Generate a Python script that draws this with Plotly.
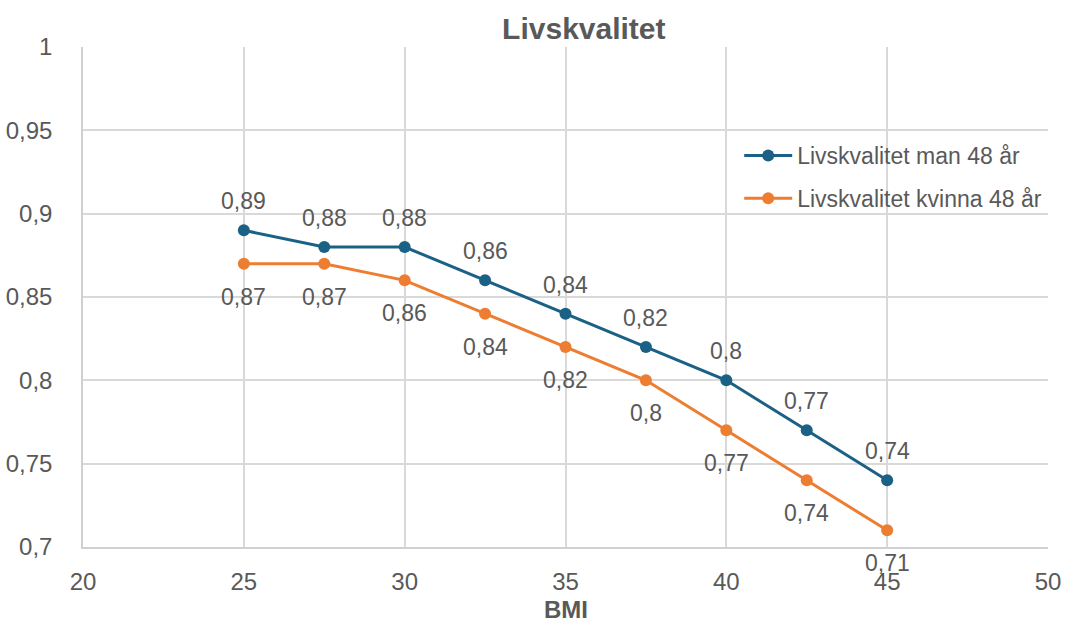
import plotly.graph_objects as go

bmi = [25, 27.5, 30, 32.5, 35, 37.5, 40, 42.5, 45]
man = [0.89, 0.88, 0.88, 0.86, 0.84, 0.82, 0.80, 0.77, 0.74]
kvinna = [0.87, 0.87, 0.86, 0.84, 0.82, 0.80, 0.77, 0.74, 0.71]
names = ["Livskvalitet man 48 år", "Livskvalitet kvinna 48 år"]

def fmt(v):
    return f"{v:g}".replace(".", ",")

FONT = "Liberation Sans, Arial, sans-serif"
GRAY = "#595959"
BLUE = "#1B6185"
ORANGE = "#ED7D31"

fig = go.Figure()
fig.add_trace(go.Scatter(
    x=bmi, y=man, name=names[0], mode="lines+markers",
    line=dict(color=BLUE, width=3), marker=dict(size=12, color=BLUE),
    legendgroup="a", cliponaxis=False))
fig.add_trace(go.Scatter(
    x=bmi, y=kvinna, name=names[1], mode="lines+markers",
    line=dict(color=ORANGE, width=3), marker=dict(size=12, color=ORANGE),
    legendgroup="b", cliponaxis=False))

annotations = []
for xv, yv in zip(bmi, man):
    annotations.append(dict(x=xv, y=yv, xref="x", yref="y", text=fmt(yv), showarrow=False,
                            yshift=29, yanchor="middle", xanchor="center",
                            font=dict(size=23, color=GRAY, family=FONT)))
for xv, yv in zip(bmi, kvinna):
    annotations.append(dict(x=xv, y=yv, xref="x", yref="y", text=fmt(yv), showarrow=False,
                            yshift=-33, yanchor="middle", xanchor="center",
                            font=dict(size=23, color=GRAY, family=FONT)))
# x-axis title
annotations.append(dict(x=0.5, y=-0.125, xref="paper", yref="paper", text="<b>BMI</b>",
                        showarrow=False, xanchor="center", yanchor="middle",
                        font=dict(size=24, color=GRAY, family=FONT)))

fig.update_layout(
    width=1065, height=624,
    margin=dict(l=83, r=17, t=47, b=77),
    paper_bgcolor="white", plot_bgcolor="white",
    separators=", ",
    font=dict(family=FONT, size=23, color=GRAY),
    title=dict(text="<b>Livskvalitet</b>", x=0.519, xref="paper", xanchor="center",
               y=0.955, yanchor="middle", font=dict(size=30, color=GRAY, family=FONT)),
    xaxis=dict(range=[20, 50], dtick=5, tick0=20, showgrid=True, gridcolor="#D9D9D9",
               gridwidth=1.5, showline=True, linecolor="#D0D0D0", linewidth=1.5,
               zeroline=False, ticks="", ticklabelstandoff=12, automargin=False,
               tickfont=dict(size=24, color=GRAY)),
    yaxis=dict(range=[0.7, 1.0], dtick=0.05, tick0=0.7, showgrid=True, gridcolor="#D9D9D9",
               gridwidth=1.5, showline=True, linecolor="#D0D0D0", linewidth=1.5,
               zeroline=False, ticks="", ticklabelstandoff=24, automargin=False,
               tickfont=dict(size=24, color=GRAY)),
    legend=dict(x=0.680, y=0.826, xanchor="left", yanchor="top", bgcolor="rgba(0,0,0,0)",
                font=dict(size=23, color=GRAY), tracegroupgap=10, itemwidth=48),
    annotations=annotations,
    showlegend=True,
)

fig.write_html("out.html")
